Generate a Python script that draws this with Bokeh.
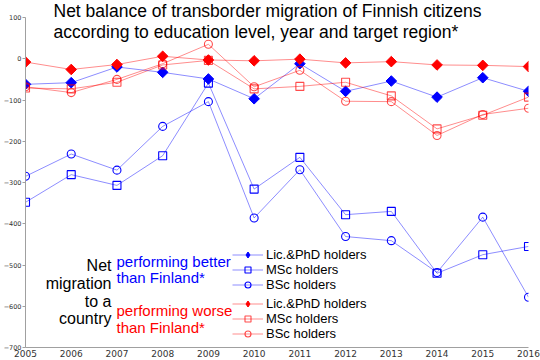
import math
from bokeh.plotting import figure
from bokeh.models import Label, Legend, LegendItem, FixedTicker, Range1d
from bokeh.embed import file_html
from bokeh.resources import INLINE

years = list(range(2005, 2017))
y_ticks = list(range(-700, 101, 100))

better_phd = [-62, -58, -20, -33, -49, -97, -12, -79, -54, -93, -46, -79]
better_msc = [-348, -281, -307, -235, -59, -316, -239, -378, -370, -520, -475, -455]
better_bsc = [-285, -231, -270, -164, -104, -386, -269, -431, -441, -518, -384, -578]
worse_phd = [-8, -26, -14, 6, -3, -5, -1, -10, -7, -15, -16, -19]
worse_msc = [-71, -73, -57, -15, -4, -73, -67, -57, -90, -170, -137, -93]
worse_bsc = [-68, -82, -50, -12, 35, -68, -28, -103, -104, -186, -135, -120]

title_lines = ["Net balance of transborder migration of Finnish citizens",
               "according to education level, year and target region*"]
side_lines = ["Net", "migration", "to a", "country"]
better_lines = ["performing better", "than Finland*"]
worse_lines = ["performing worse", "than Finland*"]
labels = ["Lic.&PhD holders", "MSc holders", "BSc holders"]

BLUE = "#0000ff"
RED = "#ff0000"
FONT = "Liberation Sans"

# the frame reaches the top of the canvas so the title can sit inside it;
# the visible axis still runs from -700 to 100 (100 sits 17px below the top)
y_top = 100 + 17 * 800 / 330

p = figure(width=540, height=360,
           min_border_left=25, min_border_right=12,
           min_border_top=0, min_border_bottom=13,
           x_range=Range1d(2005, 2016), y_range=Range1d(-700, y_top),
           output_backend="svg", toolbar_location=None)
p.outline_line_color = None
p.xgrid.visible = False
p.ygrid.visible = False

p.xaxis.ticker = FixedTicker(ticks=years)
p.yaxis.ticker = FixedTicker(ticks=y_ticks)
p.yaxis.bounds = (-700, 100)
for ax in (p.xaxis, p.yaxis):
    ax.axis_line_color = "#a0a0a0"
    ax.major_tick_line_color = "#a0a0a0"
    ax.minor_tick_line_color = None
    ax.major_tick_in = 0
    ax.major_label_text_color = "#333333"
    ax.major_label_text_font = "DejaVu Sans"
p.xaxis.major_tick_out = 0
p.xaxis.major_label_standoff = 2
p.xaxis.major_label_text_font_size = "9px"
p.yaxis.major_tick_out = 3
p.yaxis.major_label_standoff = 1
p.yaxis.major_label_text_font_size = "6.5px"


def series(vals, color, marker, mk_alpha):
    ln = p.line(years, vals, line_color=color, line_alpha=0.45, line_width=1)
    if marker == "diamond":
        p.scatter(years, vals, marker="square", angle=math.pi / 4, size=7.5,
                  fill_color=color, line_color=color)
        # legend-only marker (legend markers are drawn unrotated)
        sc = p.scatter(years, vals, marker="diamond", size=10,
                       fill_color=color, line_color=color, visible=False)
    else:
        sc = p.scatter(years, vals, marker=marker, size=8, fill_alpha=0,
                       line_color=color, line_alpha=mk_alpha, line_width=1.1)
    return [ln, sc]


rb = [series(better_phd, BLUE, "diamond", 1.0),
      series(better_msc, BLUE, "square", 1.0),
      series(better_bsc, BLUE, "circle", 1.0)]
rw = [series(worse_phd, RED, "diamond", 1.0),
      series(worse_msc, RED, "square", 0.7),
      series(worse_bsc, RED, "circle", 0.7)]


def make_legend(rends, loc):
    leg = Legend(items=[LegendItem(label=lab, renderers=r) for lab, r in zip(labels, rends)],
                 location=loc)
    leg.glyph_width = 31
    leg.glyph_height = 15
    leg.label_height = 15
    leg.spacing = 0
    leg.padding = 0
    leg.margin = 0
    leg.label_standoff = 3
    leg.border_line_color = None
    leg.background_fill_alpha = 0
    leg.inactive_fill_alpha = 0
    leg.label_text_font = FONT
    leg.label_text_font_size = "13px"
    leg.label_text_color = "#000000"
    return leg


p.add_layout(make_legend(rb, (207, 55)))
p.add_layout(make_legend(rw, (207, 6)))


def add_text(txt, x, y, color, size, align="left"):
    p.add_layout(Label(x=x, y=y, x_units="screen", y_units="screen", text=txt,
                       text_font=FONT, text_font_size=size, text_color=color,
                       text_align=align, text_baseline="alphabetic"))


for t, y in zip(title_lines, [337, 316]):
    add_text(t, 28, y, "#000000", "17.5px")
for t, y in zip(side_lines, [82, 64, 46, 29]):
    add_text(t, 86, y, "#000000", "16px", "right")
for t, y in zip(better_lines, [86, 70]):
    add_text(t, 91, y, BLUE, "15px")
for t, y in zip(worse_lines, [37, 20.5]):
    add_text(t, 91, y, RED, "15px")

open("out.html", "w").write(file_html(p, INLINE))
